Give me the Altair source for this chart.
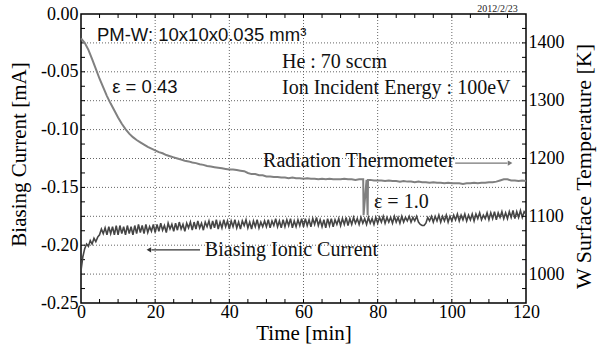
import altair as alt
import pandas as pd

# ---------------- data ----------------
# Biasing ionic current [mA], sampled every 0.5 min, t = 0 ... 120 min
current_mA = [
    -0.222, -0.210, -0.203, -0.199, -0.201, -0.196, -0.199, -0.194, -0.197, -0.193,
    -0.191, -0.186, -0.190, -0.185, -0.191, -0.184, -0.190, -0.184, -0.191, -0.183,
    -0.191, -0.183, -0.190, -0.184, -0.191, -0.183, -0.190, -0.184, -0.191, -0.183,
    -0.190, -0.182, -0.189, -0.183, -0.190, -0.182, -0.189, -0.184, -0.188, -0.182,
    -0.189, -0.182, -0.188, -0.181, -0.187, -0.183, -0.189, -0.181, -0.186, -0.182,
    -0.188, -0.181, -0.187, -0.180, -0.186, -0.182, -0.188, -0.181, -0.185, -0.180,
    -0.187, -0.180, -0.186, -0.179, -0.185, -0.181, -0.187, -0.180, -0.184, -0.179,
    -0.186, -0.179, -0.185, -0.178, -0.186, -0.180, -0.185, -0.178, -0.184, -0.179,
    -0.186, -0.179, -0.184, -0.178, -0.185, -0.180, -0.186, -0.179, -0.183, -0.178,
    -0.185, -0.180, -0.186, -0.179, -0.184, -0.178, -0.185, -0.180, -0.184, -0.179,
    -0.184, -0.178, -0.185, -0.179, -0.183, -0.177, -0.184, -0.179, -0.185, -0.178,
    -0.184, -0.178, -0.183, -0.177, -0.185, -0.179, -0.184, -0.178, -0.183, -0.177,
    -0.184, -0.177, -0.183, -0.178, -0.184, -0.177, -0.182, -0.176, -0.183, -0.178,
    -0.184, -0.178, -0.185, -0.177, -0.183, -0.177, -0.184, -0.178, -0.182, -0.177,
    -0.183, -0.177, -0.182, -0.176, -0.183, -0.177, -0.182, -0.176, -0.181, -0.177,
    -0.182, -0.176, -0.181, -0.177, -0.182, -0.176, -0.181, -0.177, -0.182, -0.176,
    -0.181, -0.176, -0.180, -0.175, -0.181, -0.176, -0.180, -0.176, -0.181, -0.175,
    -0.180, -0.176, -0.181, -0.175, -0.180, -0.176, -0.179, -0.175, -0.180, -0.176,
    -0.179, -0.175, -0.180, -0.182, -0.183, -0.183, -0.181, -0.176, -0.179, -0.175,
    -0.180, -0.175, -0.179, -0.174, -0.180, -0.175, -0.179, -0.174, -0.180, -0.175,
    -0.179, -0.174, -0.178, -0.173, -0.179, -0.174, -0.178, -0.173, -0.179, -0.174,
    -0.178, -0.173, -0.179, -0.173, -0.177, -0.172, -0.178, -0.174, -0.177, -0.172,
    -0.178, -0.172, -0.177, -0.171, -0.178, -0.172, -0.176, -0.171, -0.177, -0.172,
    -0.177, -0.171, -0.176, -0.170, -0.177, -0.171, -0.176, -0.170, -0.176, -0.171,
    -0.173,
]
current_time = [i * 0.5 for i in range(len(current_mA))]

# W surface temperature [K] (radiation thermometer), every 1 min, t = 0 ... 120
temp_K = [
    1408, 1400, 1388, 1372, 1355, 1338, 1323, 1308, 1295, 1283,
    1271, 1260, 1251, 1243, 1237, 1232, 1228, 1224, 1220, 1217,
    1214, 1211, 1209, 1206, 1204, 1202, 1200, 1198, 1196, 1195,
    1193, 1192, 1190, 1189, 1187, 1186, 1185, 1184, 1183, 1182,
    1181, 1181, 1180, 1179, 1178, 1175, 1173, 1173, 1171, 1171,
    1169, 1169, 1168, 1168, 1167, 1167, 1166, 1167, 1166, 1166,
    1165, 1166, 1165, 1165, 1164, 1165, 1164, 1165, 1164, 1164,
    1164, 1165, 1164, 1164, 1163, 1164, 1164, 1163, 1163, 1162,
    1162, 1162, 1161, 1162, 1161, 1161, 1160, 1161, 1160, 1160,
    1159, 1160, 1159, 1159, 1158, 1159, 1158, 1158, 1157, 1158,
    1157, 1157, 1157, 1156, 1157, 1157, 1158, 1157, 1158, 1158,
    1159, 1159, 1160, 1162, 1164, 1164, 1162, 1162, 1161, 1162,
    1161,
]
temp_time = list(range(len(temp_K)))
# emissivity switched to 1.0 for about a minute
dip_time = [76.1, 76.2, 77.3, 77.4]
dip_K = [1164, 1102, 1102, 1163]

x_ticks_min = [0, 20, 40, 60, 80, 100, 120]
left_ticks = [-0.25, -0.20, -0.15, -0.10, -0.05, 0.00]
right_ticks = [1000, 1100, 1200, 1300, 1400]
grid_time = [20, 40, 60, 80, 100]
grid_current = [-0.225, -0.2, -0.175, -0.15, -0.125, -0.1, -0.075, -0.05, -0.025]
minor_time = [5 * i for i in range(1, 24)]
minor_current = [-0.0125 * i for i in range(1, 20)]
minor_temp = [975, 1000, 1025, 1050, 1075, 1100, 1125, 1150, 1175, 1200,
              1225, 1250, 1275, 1300, 1325, 1350, 1375, 1400, 1425]

# ---------------- layout ----------------
W, H = 445, 289
SERIF = "Liberation Serif"
SANS = "Liberation Sans"

xs = alt.Scale(domain=[0, 120], nice=False, zero=False)
yl = alt.Scale(domain=[-0.25, 0], nice=False, zero=False)
yr = alt.Scale(domain=[950, 1450], nice=False, zero=False)

df_cur = pd.DataFrame({"t": current_time, "I": current_mA})
tt = temp_time + dip_time
tk = temp_K + dip_K
df_temp = pd.DataFrame({"t": tt, "K": tk}).sort_values("t")

x_axis = alt.Axis(values=x_ticks_min, title="Time [min]", labelFlush=False,
                  labelPadding=0, titleY=36, titleBaseline="alphabetic")
left_axis = alt.Axis(values=left_ticks, title="Biasing Current [mA]",
                     labelExpr="datum.value == 0 ? '0.00' : '-' + format(abs(datum.value), '.2f')",
                     labelPadding=3, titleAngle=270, titleX=-62, titleY=140,
                     titleBaseline="middle", titleAlign="center", labelOverlap=False)
right_axis = alt.Axis(values=right_ticks, title="W Surface Temperature [K]", orient="right",
                      format="d", labelPadding=2, titleAngle=270, titleX=57, titleY=152,
                      titleFontSize=22,
                      titleBaseline="middle", titleAlign="center", labelOverlap=False)

X = lambda f: alt.X(f, scale=xs, axis=x_axis)
YL = lambda f: alt.Y(f, scale=yl, axis=left_axis)
YR = lambda f: alt.Y(f, scale=yr, axis=right_axis)

vgrid = alt.Chart(pd.DataFrame({"t": grid_time})).mark_rule(
    color="#555555", strokeWidth=0.9, strokeDash=[1, 2]).encode(x=X("t:Q"))
hgrid = alt.Chart(pd.DataFrame({"I": grid_current})).mark_rule(
    color="#555555", strokeWidth=0.9, strokeDash=[1, 2]).encode(y=YL("I:Q"))

cur = alt.Chart(df_cur).mark_line(color="#454545", strokeWidth=1.6).encode(
    x=X("t:Q"), y=YL("I:Q"))

df_mt = pd.DataFrame({"t": minor_time})
xt_bot = alt.Chart(df_mt).mark_rule(color="black", strokeWidth=1).encode(
    x=X("t:Q"), y=alt.value(H), y2=alt.value(H - 4))
xt_top = alt.Chart(df_mt).mark_rule(color="black", strokeWidth=1).encode(
    x=X("t:Q"), y=alt.value(0), y2=alt.value(4))
yt_left = alt.Chart(pd.DataFrame({"I": minor_current})).mark_rule(
    color="black", strokeWidth=1).encode(
    y=YL("I:Q"), x=alt.value(0), x2=alt.value(4))

# annotations (positions in data units of time / current)
ann_serif = pd.DataFrame({
    "t": [54.2, 54.2, 49.1, 33.4, 79.0],
    "I": [-0.0415, -0.0640, -0.1270, -0.2040, -0.1625],
    "label": ["He : 70 sccm", "Ion Incident Energy : 100eV", "Radiation Thermometer",
              "Biasing Ionic Current", "\u03b5 = 1.0"],
})
txt_serif = alt.Chart(ann_serif).mark_text(
    font=SERIF, fontSize=20, align="left", baseline="middle", color="#111111").encode(
    x=X("t:Q"), y=YL("I:Q"), text="label:N")

ann_sans = pd.DataFrame({
    "t": [4.3, 8.4],
    "I": [-0.0185, -0.0630],
    "label": ["PM-W: 10x10x0.035 mm\u00b3", "\u03b5 = 0.43"],
    "size": [18.5, 18.5],
})
txt_sans = alt.Chart(ann_sans).mark_text(
    font=SANS, align="left", baseline="middle", color="#111111").encode(
    x=X("t:Q"), y=YL("I:Q"),
    text="label:N", size=alt.Size("size:Q", scale=None, legend=None))

ann_date = pd.DataFrame({"t": [117.8], "I": [0.0045], "label": ["2012/2/23"]})
txt_date = alt.Chart(ann_date).mark_text(
    font=SERIF, fontSize=10, align="right", baseline="middle", color="#222222").encode(
    x=X("t:Q"), y=YL("I:Q"), text="label:N")

arrows = pd.DataFrame({
    "t1": [100.9, 32.1], "t2": [115.0, 19.0], "I": [-0.129, -0.204],
    "c": ["#777777", "#333333"],
})
arrow_lines = alt.Chart(arrows).mark_rule(strokeWidth=1.2).encode(
    x=X("t1:Q"), x2="t2:Q", y=YL("I:Q"),
    color=alt.Color("c:N", scale=None, legend=None))
heads = pd.DataFrame({"t": [115.7, 18.3], "I": [-0.129, -0.204],
                      "shape": ["triangle-right", "triangle-left"],
                      "c": ["#777777", "#333333"]})
arrow_heads = alt.Chart(heads).mark_point(filled=True, size=28, opacity=1).encode(
    x=X("t:Q"), y=YL("I:Q"),
    shape=alt.Shape("shape:N", scale=None, legend=None),
    color=alt.Color("c:N", scale=None, legend=None))

left = alt.layer(vgrid, hgrid, xt_bot, xt_top, yt_left, cur,
                 txt_serif, txt_sans, txt_date, arrow_lines, arrow_heads)

temp = alt.Chart(df_temp).mark_line(color="#808080", strokeWidth=2.0).encode(
    x=X("t:Q"), y=YR("K:Q"))
yt_right = alt.Chart(pd.DataFrame({"K": minor_temp})).mark_rule(
    color="black", strokeWidth=1).encode(
    y=YR("K:Q"), x=alt.value(W), x2=alt.value(W - 4))
right = alt.layer(temp, yt_right)

chart = alt.layer(left, right).resolve_scale(y="independent").properties(
    width=W, height=H, background="white",
    autosize=alt.AutoSizeParams(type="none"),
    padding={"left": 81, "top": 14, "right": 72, "bottom": 44},
).configure_view(stroke="black", strokeWidth=1.5).configure_axis(
    labelFont=SERIF, titleFont=SERIF, labelFontSize=18, titleFontSize=21,
    labelColor="black", titleColor="black", titleFontWeight="normal",
    grid=False, ticks=False, domain=False,
)

chart.save("out.html", embed_options={"renderer": "svg", "actions": False})
